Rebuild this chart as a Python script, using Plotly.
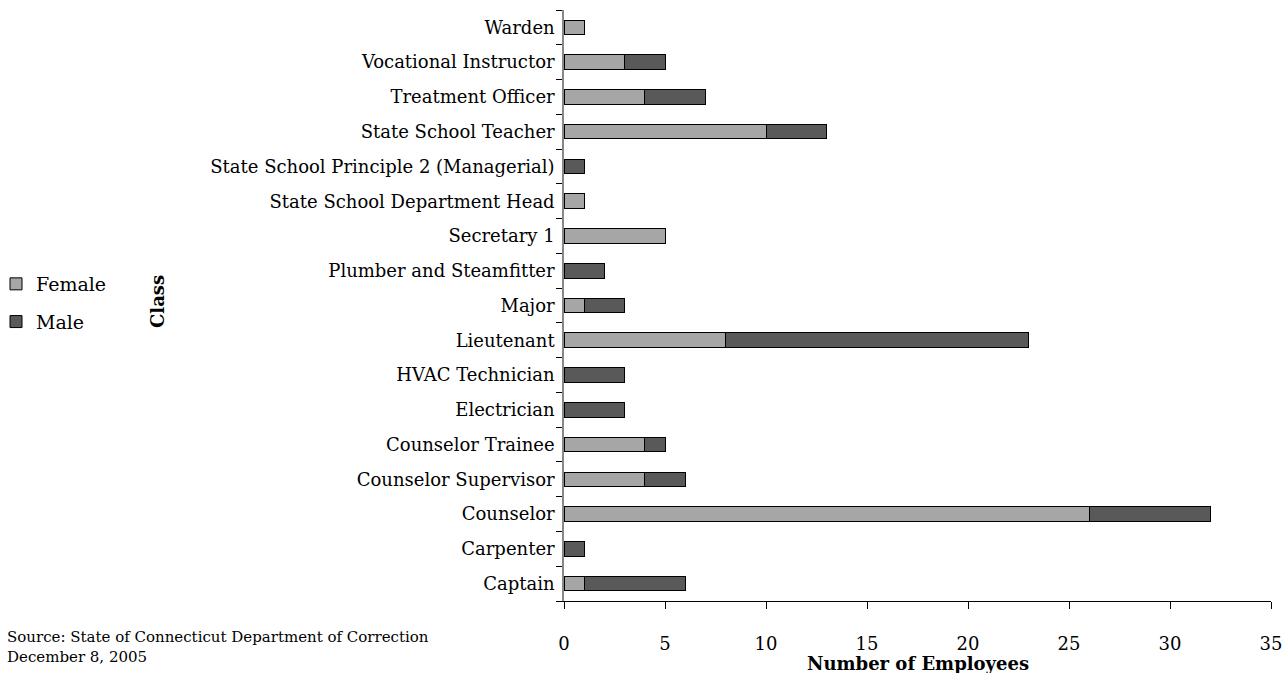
import plotly.graph_objects as go

classes = ["Captain", "Carpenter", "Counselor", "Counselor Supervisor", "Counselor Trainee",
           "Electrician", "HVAC Technician", "Lieutenant", "Major", "Plumber and Steamfitter",
           "Secretary 1", "State School Department Head", "State School Principle 2 (Managerial)",
           "State School Teacher", "Treatment Officer", "Vocational Instructor", "Warden"]
female = [1, 0, 26, 4, 4, 0, 0, 8, 1, 0, 5, 1, 0, 10, 4, 3, 1]
male = [5, 1, 6, 2, 1, 3, 3, 15, 2, 2, 0, 0, 1, 3, 3, 2, 0]
x_ticks = [0, 5, 10, 15, 20, 25, 30, 35]

FONT = "DejaVu Serif"

def nz(v):
    return [None if a == 0 else a for a in v]

fig = go.Figure()
fig.add_trace(go.Bar(y=classes, x=nz(female), orientation="h", name="Female", legendgroup="f",
                     marker=dict(color="#A6A6A6", line=dict(color="black", width=1))))
fig.add_trace(go.Bar(y=classes, x=nz(male), orientation="h", name="Male", legendgroup="m",
                     marker=dict(color="#595959", line=dict(color="black", width=1))))

W, H = 1286, 673
L, R, T, B = 564, 15, 10, 72
pw = W - L - R
ph = H - T - B

fig.update_layout(
    barmode="stack", bargap=0.58,
    width=W, height=H,
    margin=dict(l=L, r=R, t=T, b=B, autoexpand=False),
    paper_bgcolor="white", plot_bgcolor="white",
    font=dict(family=FONT, size=18, color="black"),
    showlegend=True,
    legend=dict(x=(-4 - L) / pw, y=1 - (265 - T) / ph, xanchor="left", yanchor="top",
                traceorder="grouped", font=dict(size=19, family=FONT), tracegroupgap=10,
                itemwidth=30, bgcolor="rgba(0,0,0,0)"),
    xaxis=dict(range=[0, 35], tickvals=x_ticks, ticktext=[str(t) for t in x_ticks],
               showgrid=False, zeroline=False, showline=True, linecolor="black", linewidth=1,
               ticks="outside", ticklen=7, tickcolor="black",
               tickfont=dict(size=18, family=FONT), ticklabelstandoff=19),
    yaxis=dict(categoryorder="array", categoryarray=classes, showgrid=False, zeroline=False,
               showline=True, linecolor="#888888", linewidth=1.5,
               ticks="outside", ticklen=6, tickcolor="black", tickson="boundaries",
               tickfont=dict(size=18, family=FONT), ticklabelstandoff=4),
)

fig.add_annotation(text="<b>Number of Employees</b>", xref="paper", yref="paper",
                   x=0.5, y=-(663 - (T + ph)) / ph, xanchor="center", yanchor="middle",
                   showarrow=False, font=dict(size=18, family=FONT))
fig.add_annotation(text="<b>Class</b>", xref="paper", yref="paper", textangle=-90,
                   x=(157 - L) / pw, y=1 - (302 - T) / ph, xanchor="center", yanchor="middle",
                   showarrow=False, font=dict(size=18, family=FONT))
fig.add_annotation(text="Source: State of Connecticut Department of Correction<br>December 8, 2005",
                   xref="paper", yref="paper", x=(5 - L) / pw, y=-(626 - (T + ph)) / ph,
                   xanchor="left", yanchor="top", align="left", showarrow=False,
                   font=dict(size=15, family=FONT))

fig.write_html("out.html", config={"displayModeBar": False},
               post_script="document.body.style.margin='0';")
